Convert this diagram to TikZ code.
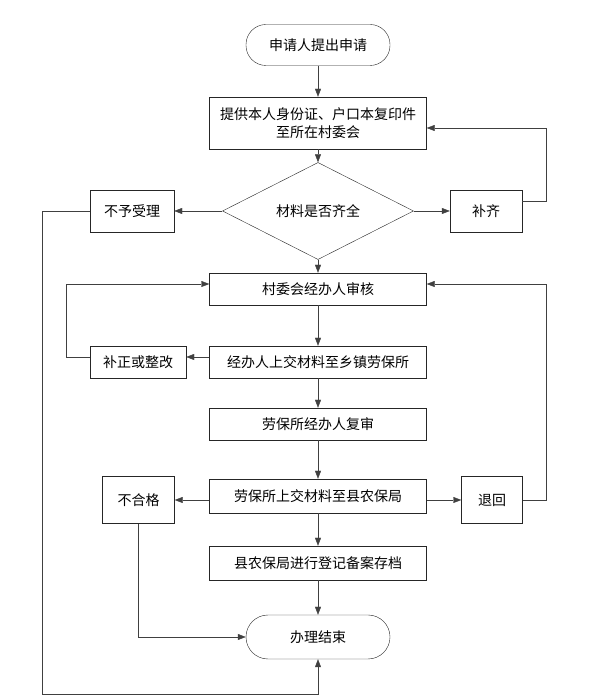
\documentclass[tikz,border=0pt]{standalone}
\usepackage{fontspec}
\setmainfont{Noto Sans CJK SC}
\usetikzlibrary{arrows.meta,shapes.geometric,graphs}

\definecolor{linegray}{HTML}{404040}

\begin{document}
\begin{tikzpicture}
	% Styles
	[
	x=1pt, y=1pt,
	font=\fontsize{14}{18}\selectfont,
	>={Triangle[length=8pt,width=6pt]},
	process/.style={rectangle,draw=black!85,thin,inner sep=0pt,minimum width=217pt,minimum height=32pt,align=center},
	sidebox/.style={rectangle,draw=black!85,thin,inner sep=0pt,minimum height=42pt},
	terminal/.style={rectangle,rounded corners=20pt,draw=black!85,thin,inner sep=0pt,minimum width=144pt,minimum height=41pt},
	decision/.style={diamond,draw=black!85,thin,inner sep=0pt,minimum width=191pt,minimum height=61pt},
	line/.style={draw=linegray,thin},
	]
	\useasboundingbox (0,0) rectangle (600,700);

	% Nodes
	\node at (318,655)	(start)	[terminal] {申请人提出申请};
	\node at (318,577)	(tigong)	[process,minimum height=52pt] {提供本人身份证、户口本复印件\\至所在村委会};
	\node at (318,489)	(cailiao)	[decision] {材料是否齐全};
	\node at (132,489)	(buyu)	[sidebox,minimum width=84pt] {不予受理};
	\node at (486,489)	(buqi)	[sidebox,minimum width=72pt] {补齐};
	\node at (318,411)	(shenhe)	[process] {村委会经办人审核};
	\node at (138,338)	(buzheng)	[sidebox,minimum width=96pt,minimum height=32pt] {补正或整改};
	\node at (318,338)	(shangjiao)	[process] {经办人上交材料至乡镇劳保所};
	\node at (318,276)	(fushen)	[process] {劳保所经办人复审};
	\node at (318,204)	(xianju)	[process,minimum height=34pt] {劳保所上交材料至县农保局};
	\node at (138.5,200)	(buhege)	[sidebox,minimum width=72pt,minimum height=47pt] {不合格};
	\node at (492,200)	(tuihui)	[sidebox,minimum width=61pt,minimum height=47pt] {退回};
	\node at (318,137)	(dengji)	[process,minimum height=34pt] {县农保局进行登记备案存档};
	\node at (318,63)	(finish)	[terminal,minimum height=44pt,rounded corners=22pt] {办理结束};

	% Corner points
	\coordinate (c1) at (546,499);
	\coordinate (c2) at (546,572);
	\coordinate (c3) at (66,343);
	\coordinate (c4) at (66,416);
	\coordinate (c5) at (546,200);
	\coordinate (c6) at (546,416);
	\coordinate (c7) at (138.5,63);
	\coordinate (c8) at (42,489);
	\coordinate (c9) at (42,6);
	\coordinate (c10) at (318,6);

	% Connections
	\graph[use existing nodes, edges={line}] {
		start -> tigong -> cailiao -> shenhe -> shangjiao -> fushen -> xianju -> dengji -> finish;
		cailiao -> buyu;
		cailiao -> buqi;
	};
	\draw[line,->] ([yshift=5pt]shangjiao.west) -- ([yshift=5pt]buzheng.east);
	\draw[line,->] ([yshift=-4pt]xianju.west) -- (buhege.east);
	\draw[line,->] ([yshift=-4pt]xianju.east) -- (tuihui.west);
	\draw[line,->] ([yshift=10pt]buqi.east) -- (c1) -- (c2) -- ([yshift=-5pt]tigong.east);
	\draw[line,->] ([yshift=5pt]buzheng.west) -- (c3) -- (c4) -- ([yshift=5pt]shenhe.west);
	\draw[line,->] (tuihui.east) -- (c5) -- (c6) -- ([yshift=5pt]shenhe.east);
	\draw[line,->] (buhege.south) -- (c7) -- (finish.west);
	\draw[line,->] (buyu.west) -- (c8) -- (c9) -- (c10) -- (finish.south);

\end{tikzpicture}
\end{document}
